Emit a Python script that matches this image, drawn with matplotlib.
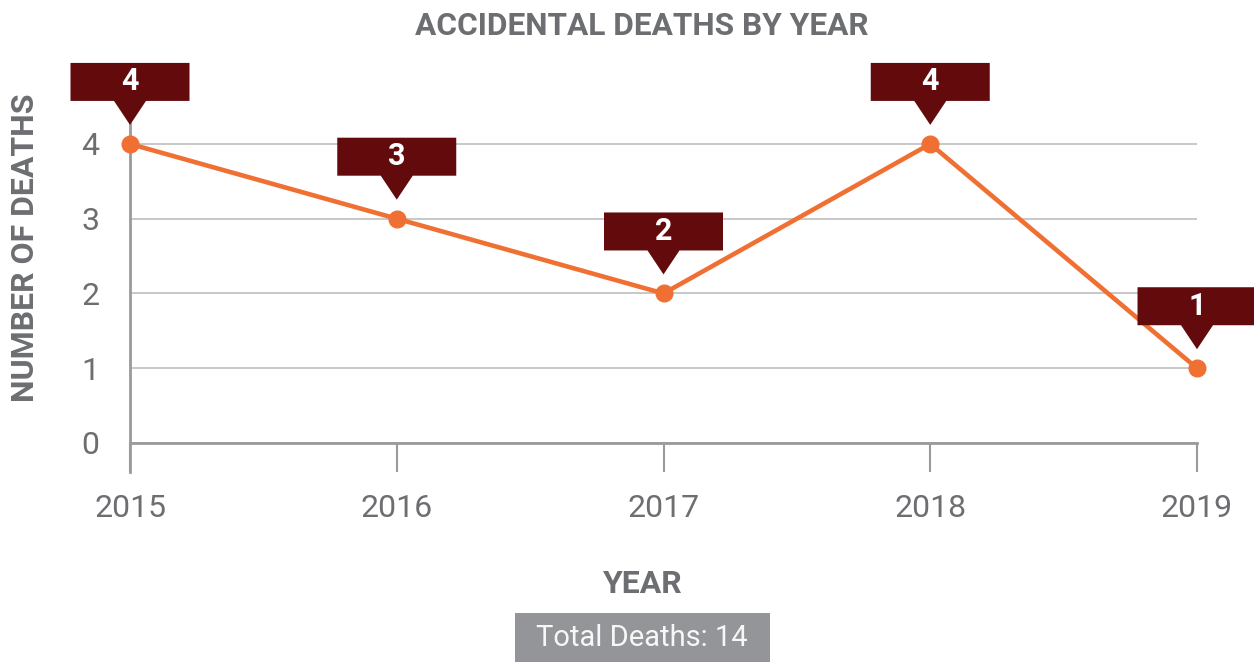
import matplotlib.pyplot as plt
import matplotlib.patches as patches
import matplotlib.transforms as mtransforms
from matplotlib.path import Path

plt.rcParams['font.family'] = ['Roboto', 'DejaVu Sans']

# deaths per year
years = [2015, 2016, 2017, 2018, 2019]
deaths = [4, 3, 2, 4, 1]
year_labels = [str(y) for y in years]
y_ticks = [0, 1, 2, 3, 4]

txt_gray = '#6d6e71'
axis_gray = '#9a9a9d'
grid_gray = '#c4c4c4'
line_orange = '#f07033'
callout_red = '#630b0c'

fig = plt.figure(figsize=(12.54, 6.62), dpi=100)
ax = fig.add_axes([130 / 1254, 1 - 443 / 662, 1067 / 1254, 321.5 / 662])

ax.plot(years, deaths, color=line_orange, lw=3.3, marker='o', ms=12,
        clip_on=False, zorder=3, solid_capstyle='round')

ax.set_xlim(years[0], years[-1])
ax.set_ylim(0, 4.3)
ax.set_xticks(years)
ax.set_xticklabels(year_labels)
ax.set_yticks(y_ticks)
ax.grid(axis='y', color=grid_gray, lw=1.3)
ax.set_axisbelow(True)

for s in ['top', 'right']:
    ax.spines[s].set_visible(False)
for s in ['left', 'bottom']:
    ax.spines[s].set_color(axis_gray)
    ax.spines[s].set_linewidth(2)
ax.spines['left'].set_bounds(-0.39, 4.3)

ax.tick_params(axis='x', length=21, width=1.5, color=axis_gray, pad=16,
               labelsize=23, labelcolor=txt_gray)
ax.tick_params(axis='y', length=0, pad=22, labelsize=23, labelcolor=txt_gray)

# callout boxes with a pointer, sized in inches above each point
verts = [(-0.595, 0.43), (-0.16, 0.43), (0.0, 0.19), (0.16, 0.43),
         (0.595, 0.43), (0.595, 0.81), (-0.595, 0.81), (-0.595, 0.43)]
codes = [Path.MOVETO] + [Path.LINETO] * 6 + [Path.CLOSEPOLY]
shape = Path(verts, codes)
for x, y in zip(years, deaths):
    tr = fig.dpi_scale_trans + mtransforms.ScaledTranslation(x, y, ax.transData)
    ax.add_patch(patches.PathPatch(shape, transform=tr, facecolor=callout_red,
                                   edgecolor='none', clip_on=False, zorder=4))
    ax.text(0, 0.625, str(y), transform=tr, ha='center', va='center',
            color='white', fontsize=22, fontweight='bold', zorder=5)

fig.text(642 / 1254, 1 - 26 / 662, 'ACCIDENTAL DEATHS BY YEAR', ha='center',
         va='center', fontsize=22.8, fontweight='bold', color=txt_gray)
fig.text(25 / 1254, 1 - 248 / 662, 'NUMBER OF DEATHS', ha='center', va='center',
         rotation=90, fontsize=23, fontweight='bold', color=txt_gray)
fig.text(643 / 1254, 1 - 584 / 662, 'YEAR', ha='center', va='center',
         fontsize=23, fontweight='bold', color=txt_gray)

fig.patches.append(patches.Rectangle((515 / 1254, 0), 255 / 1254, 49 / 662,
                                     transform=fig.transFigure,
                                     facecolor='#939598', edgecolor='none'))
fig.text(642 / 1254, 1 - 638 / 662, 'Total Deaths: %d' % sum(deaths),
         ha='center', va='center', fontsize=21, color='#f7f7f7')

fig.savefig('out.png', dpi=100)
